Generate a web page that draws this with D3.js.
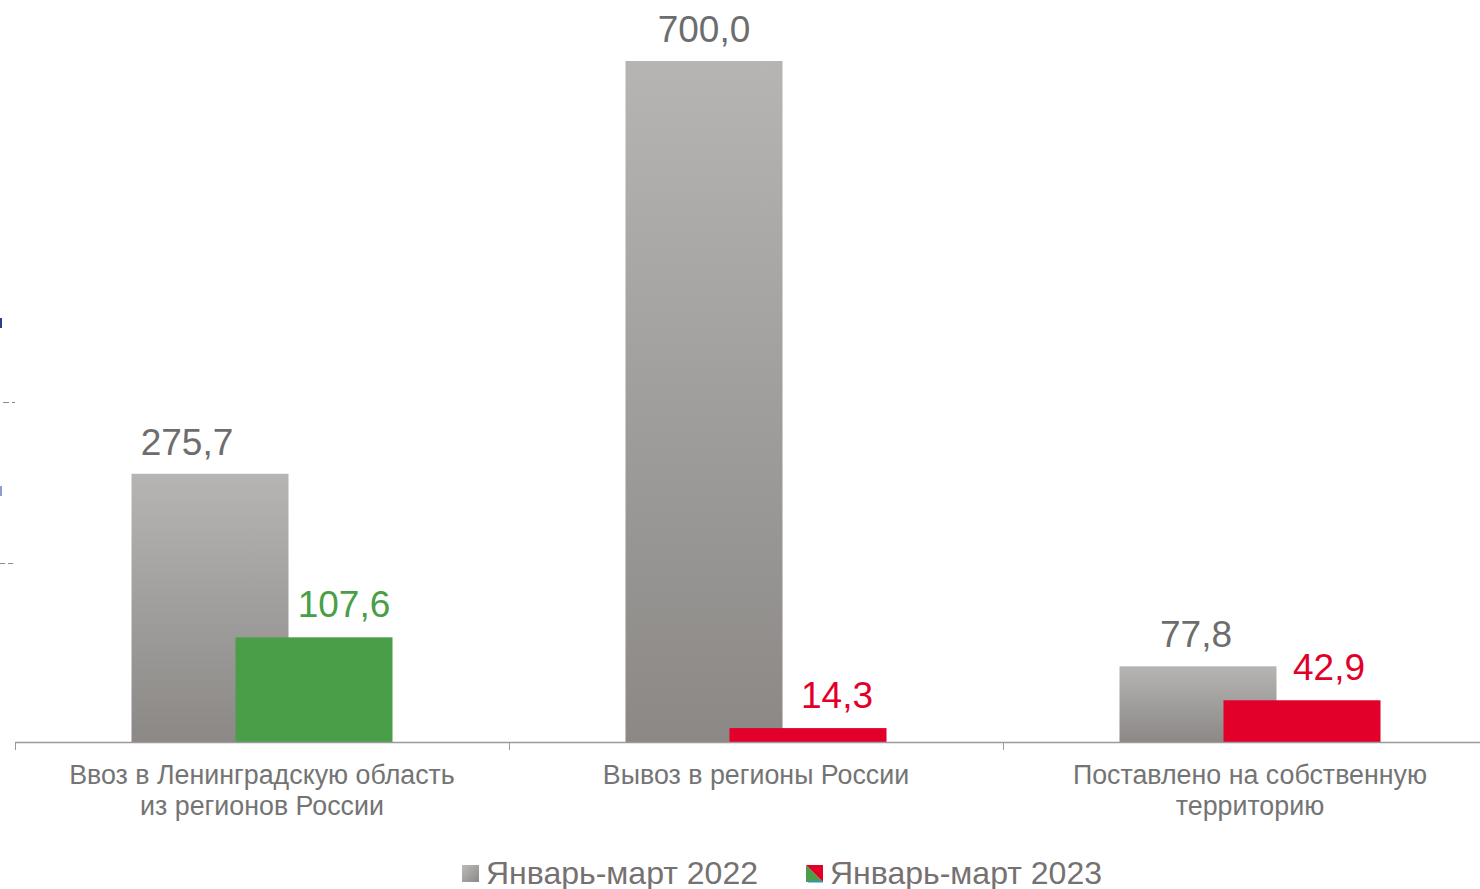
<!DOCTYPE html>
<html>
<head>
<meta charset="utf-8">
<script src="https://cdn.jsdelivr.net/npm/d3@7"></script>
<style>
  html, body { margin: 0; padding: 0; background: #fff; }
  svg { display: block; font-family: "Liberation Sans", Arial, sans-serif; }
</style>
</head>
<body>
<svg width="1480" height="889"></svg>
<script>
"use strict";

var categories = [
    ["Ввоз в Ленинградскую область", "из регионов России"],
    ["Вывоз в регионы России"],
    ["Поставлено на собственную", "территорию"]
];
var values2022 = [275.7, 700.0, 77.8];
var values2023 = [107.6, 14.3, 42.9];
var colors2023 = ["#4a9e48", "#e2002b", "#e2002b"];
var labelColors2023 = ["#47a047", "#e2002b", "#e2002b"];
var seriesNames = ["Январь-март 2022", "Январь-март 2023"];

// small label nudges, as in the original
var nudge2022 = [-23, 0, -2];
var nudge2023 = [30, 29, 27];

var svg = d3.select("svg");

var defs = svg.append("defs");
var grad = defs.append("linearGradient")
    .attr("id", "grayGrad")
    .attr("x1", 0).attr("y1", 0).attr("x2", 0).attr("y2", 1);
grad.append("stop").attr("offset", "0%").attr("stop-color", "#b6b5b3");
grad.append("stop").attr("offset", "100%").attr("stop-color", "#8b8886");

var legGrad = defs.append("linearGradient")
    .attr("id", "legGrad")
    .attr("x1", 0).attr("y1", 0).attr("x2", 1).attr("y2", 1);
legGrad.append("stop").attr("offset", "0%").attr("stop-color", "#bdbcba");
legGrad.append("stop").attr("offset", "100%").attr("stop-color", "#8a8785");

var x = d3.scaleBand()
    .domain(d3.range(categories.length))
    .range([15, 1497])
    .padding(0);

var y = d3.scaleLinear()
    .domain([0, 700])
    .range([742, 61]);

var barW = 157;
var shift = 52;

// left-edge fragments of a cropped axis
var g0 = svg.append("g");
g0.append("rect").attr("x", 0).attr("y", 318).attr("width", 2).attr("height", 10).attr("fill", "#2a3d8f");
g0.append("rect").attr("x", 0).attr("y", 486).attr("width", 2).attr("height", 10).attr("fill", "#8e9ad0");
g0.append("line").attr("x1", 3).attr("x2", 15).attr("y1", 402.5).attr("y2", 402.5)
    .attr("stroke", "#8a8a8a").attr("stroke-dasharray", "6,3");
g0.append("line").attr("x1", 0).attr("x2", 15).attr("y1", 563.5).attr("y2", 563.5)
    .attr("stroke", "#8a8a8a").attr("stroke-dasharray", "5,3");

// bars 2022
svg.append("g")
    .selectAll("rect")
    .data(values2022)
    .enter()
    .append("rect")
    .attr("x", function (d, i) { return x(i) + x.bandwidth() / 2 - shift - barW / 2; })
    .attr("y", function (d) { return y(d); })
    .attr("width", barW)
    .attr("height", function (d) { return y(0) - y(d); })
    .attr("fill", "url(#grayGrad)");

// bars 2023
svg.append("g")
    .selectAll("rect")
    .data(values2023)
    .enter()
    .append("rect")
    .attr("x", function (d, i) { return x(i) + x.bandwidth() / 2 + shift - barW / 2; })
    .attr("y", function (d) { return y(d); })
    .attr("width", barW)
    .attr("height", function (d) { return y(0) - y(d); })
    .attr("fill", function (d, i) { return colors2023[i]; });

var fmt = function (d) { return d.toFixed(1).replace(".", ","); };

svg.append("g")
    .selectAll("text")
    .data(values2022)
    .enter()
    .append("text")
    .attr("x", function (d, i) { return x(i) + x.bandwidth() / 2 - shift + nudge2022[i]; })
    .attr("y", function (d) { return y(d) - 19; })
    .attr("text-anchor", "middle")
    .attr("font-size", 37)
    .attr("fill", "#6d6d6d")
    .text(fmt);

svg.append("g")
    .selectAll("text")
    .data(values2023)
    .enter()
    .append("text")
    .attr("x", function (d, i) { return x(i) + x.bandwidth() / 2 + shift + nudge2023[i]; })
    .attr("y", function (d) { return y(d) - 20; })
    .attr("text-anchor", "middle")
    .attr("font-size", 37)
    .attr("fill", function (d, i) { return labelColors2023[i]; })
    .text(fmt);

// x axis
var axisG = svg.append("g");
axisG.append("line")
    .attr("x1", 15).attr("x2", 1480)
    .attr("y1", 742.5).attr("y2", 742.5)
    .attr("stroke", "#9a9a9a").attr("stroke-width", 1.5);
axisG.selectAll("line.tick")
    .data(d3.range(categories.length))
    .enter()
    .append("line")
    .attr("class", "tick")
    .attr("x1", function (d) { return x(d) + 0.5; })
    .attr("x2", function (d) { return x(d) + 0.5; })
    .attr("y1", 742).attr("y2", 750)
    .attr("stroke", "#9a9a9a");

var catText = svg.append("g")
    .selectAll("text")
    .data(categories)
    .enter()
    .append("text")
    .attr("text-anchor", "middle")
    .attr("font-size", 26.8)
    .attr("fill", "#747474")
    .attr("transform", function (d, i) {
        return "translate(" + (x(i) + 247) + ",0)";
    });
catText.selectAll("tspan")
    .data(function (d) { return d; })
    .enter()
    .append("tspan")
    .attr("x", 0)
    .attr("y", function (d, j) { return 784 + j * 31; })
    .text(function (d) { return d; });

// legend
var leg = svg.append("g");
leg.append("rect").attr("x", 462).attr("y", 865).attr("width", 17).attr("height", 17)
    .attr("fill", "url(#legGrad)");
leg.append("text").attr("x", 486).attr("y", 884).attr("font-size", 32)
    .attr("fill", "#767171").text(seriesNames[0]);

leg.append("path").attr("d", "M806,865 L806,882 L823,882 Z").attr("fill", "#4a9e48");
leg.append("path").attr("d", "M806,865 L823,865 L823,882 Z").attr("fill", "#e2002b");
leg.append("rect").attr("x", 808).attr("y", 881).attr("width", 15).attr("height", 1.5).attr("fill", "#2f8fd0");
leg.append("text").attr("x", 830).attr("y", 884).attr("font-size", 32)
    .attr("fill", "#767171").text(seriesNames[1]);
</script>
</body>
</html>
